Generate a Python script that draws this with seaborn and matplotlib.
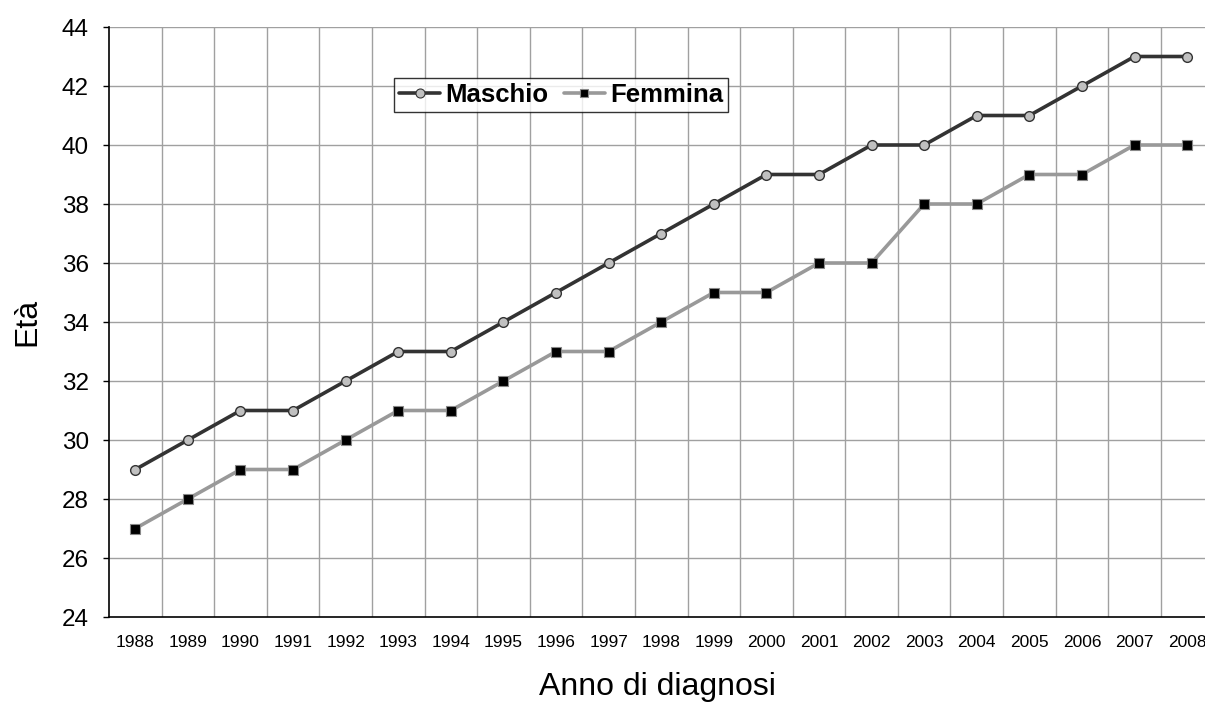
import matplotlib
matplotlib.use("Agg")
import matplotlib.pyplot as plt
import seaborn as sns
import pandas as pd
from matplotlib.lines import Line2D

years = [str(y) for y in range(1988, 2009)]
maschio = [29, 30, 31, 31, 32, 33, 33, 34, 35, 36, 37, 38, 39, 39, 40, 40, 41, 41, 42, 43, 43]
femmina = [27, 28, 29, 29, 30, 31, 31, 32, 33, 33, 34, 35, 35, 36, 36, 38, 38, 39, 39, 40, 40]
y_ticks = list(range(24, 45, 2))

sns.set_style("white")
plt.rcParams["font.family"] = ["Liberation Sans", "DejaVu Sans"]
plt.rcParams.update({"text.color": "black", "axes.labelcolor": "black",
                     "xtick.color": "black", "ytick.color": "black"})

pos = list(range(len(years)))
df = pd.DataFrame({
    "pos": pos * 2,
    "eta": maschio + femmina,
    "sesso": ["Maschio"] * len(years) + ["Femmina"] * len(years),
})

fig = plt.figure(figsize=(12.05, 7.09), dpi=100)
ax = fig.add_axes([109 / 1205, 92 / 709, 1 - 109 / 1205, 590 / 709])

line_col = {"Maschio": "#333333", "Femmina": "#999999"}
sns.lineplot(data=df, x="pos", y="eta", hue="sesso", palette=line_col,
             linewidth=2.6, legend=False, ax=ax, zorder=3)

# markers drawn on top of the lines
ax.plot(pos, maschio, linestyle="none", marker="o", markersize=7.0,
        markerfacecolor="#c0c0c0", markeredgecolor="#333333",
        markeredgewidth=1.0, zorder=4)
ax.plot(pos, femmina, linestyle="none", marker="s", markersize=6.6,
        markerfacecolor="#000000", markeredgecolor="#888888",
        markeredgewidth=0.8, zorder=4)

ax.set_xlim(-0.5, 20.34)
ax.set_ylim(24, 44)
ax.set_yticks(y_ticks)
ax.set_yticklabels([str(t) for t in y_ticks], fontsize=17.5)

# category labels at centers, ticks and grid at boundaries
ax.set_xticks(pos)
ax.set_xticklabels(years, fontsize=12.5)
ax.tick_params(axis="x", which="major", length=0, pad=13)
bounds = [p + 0.5 for p in pos[:-1]]
ax.set_xticks([-0.5] + bounds, minor=True)
ax.tick_params(axis="x", which="minor", length=4.5, width=1, color="black", direction="out")
ax.tick_params(axis="y", length=4.5, width=1, color="black", direction="out",
               left=True, pad=10)

for b in bounds:
    ax.axvline(b, color="#a0a0a0", linewidth=1.0, zorder=1)
for t in y_ticks[1:]:
    ax.axhline(t, color="#a0a0a0", linewidth=1.0, zorder=1)

for side in ["top", "right"]:
    ax.spines[side].set_visible(False)
for side in ["left", "bottom"]:
    ax.spines[side].set_color("black")
    ax.spines[side].set_linewidth(1.2)
    ax.spines[side].set_zorder(5)

ax.set_xlabel("Anno di diagnosi", fontsize=23, labelpad=16)
ax.set_ylabel("Età", fontsize=23, labelpad=14)

handles = [
    Line2D([], [], color="#333333", linewidth=2.6, marker="o", markersize=6.5,
           markerfacecolor="#c0c0c0", markeredgecolor="#333333", markeredgewidth=0.8),
    Line2D([], [], color="#999999", linewidth=2.6, marker="s", markersize=5.6,
           markerfacecolor="#000000", markeredgecolor="#888888", markeredgewidth=0.8),
]
leg = ax.legend(handles, ["Maschio", "Femmina"], ncol=2, loc="upper left",
                bbox_to_anchor=((394 - 109) / 1096, (617 - 78) / 590),
                prop={"weight": "bold", "size": 18.5}, frameon=True, fancybox=False,
                edgecolor="black", handlelength=1.6, handletextpad=0.2,
                columnspacing=0.6, borderpad=0.2, borderaxespad=0)
leg.get_frame().set_linewidth(1.0)
leg.set_zorder(6)

fig.savefig("out.png", dpi=100)
